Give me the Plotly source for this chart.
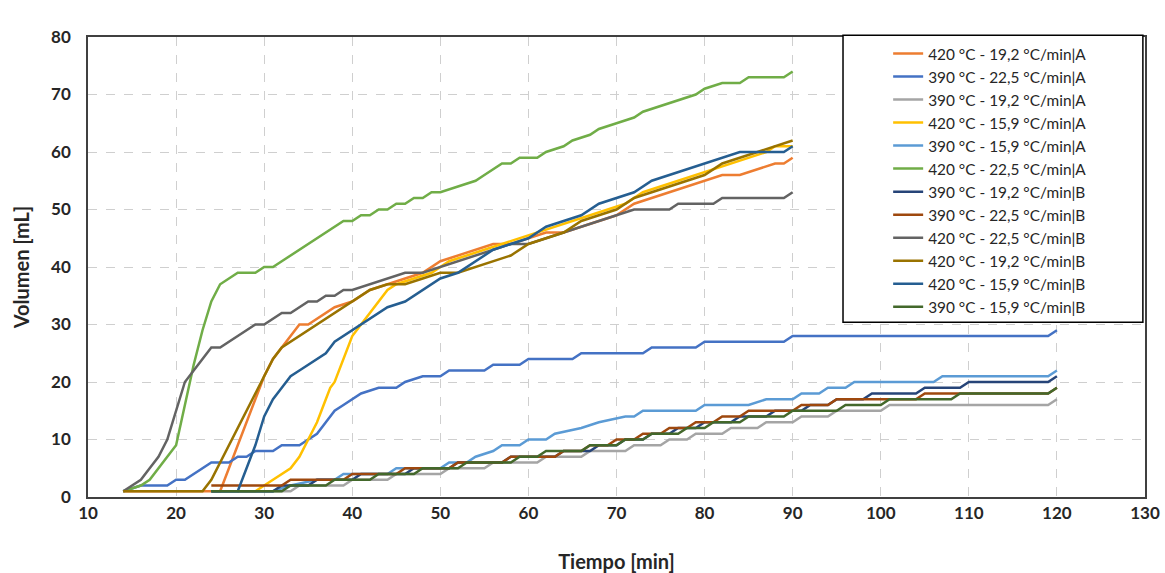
import plotly.graph_objects as go

# ---------------- data ----------------
names = [
    "420 °C - 19,2 °C/min|A", "390 °C - 22,5 °C/min|A", "390 °C - 19,2 °C/min|A",
    "420 °C - 15,9 °C/min|A", "390 °C - 15,9 °C/min|A", "420 °C - 22,5 °C/min|A",
    "390 °C - 19,2 °C/min|B", "390 °C - 22,5 °C/min|B", "420 °C - 22,5 °C/min|B",
    "420 °C - 19,2 °C/min|B", "420 °C - 15,9 °C/min|B", "390 °C - 15,9 °C/min|B",
]
colors = ["#ED7D31", "#4472C4", "#A5A5A5", "#FFC000", "#5B9BD5", "#70AD47",
          "#264478", "#9E480E", "#636363", "#997300", "#255E91", "#43682B"]

t_420_192_A = [14, 25, 26, 27, 28, 29, 30, 31, 32, 33, 34, 35, 36, 38, 40, 42, 44, 46, 48, 50, 52, 54, 56, 58, 60,
               62, 64, 66, 68, 70, 72, 74, 76, 78, 80, 82, 84, 86, 88, 89, 90]
v_420_192_A = [1, 1, 5, 9, 13, 17, 21, 24, 26, 28, 30, 30, 31, 33, 34, 36, 37, 38, 39, 41, 42, 43, 44, 44, 45,
               46, 46, 47, 48, 49, 51, 52, 53, 54, 55, 56, 56, 57, 58, 58, 59]

t_390_225_A = [14, 16, 19, 20, 21, 23, 24, 26, 27, 28, 29, 31, 32, 34, 35, 36, 37, 38, 39, 40, 41, 43, 45, 46, 48,
               50, 51, 55, 56, 59, 60, 65, 66, 73, 74, 79, 80, 89, 90, 119, 120]
v_390_225_A = [1, 2, 2, 3, 3, 5, 6, 6, 7, 7, 8, 8, 9, 9, 10, 11, 13, 15, 16, 17, 18, 19, 19, 20, 21,
               21, 22, 22, 23, 23, 24, 24, 25, 25, 26, 26, 27, 27, 28, 28, 29]

t_390_192_A = [24, 33, 34, 39, 40, 44, 45, 50, 51, 55, 56, 61, 62, 66, 67, 71, 72, 75, 76, 78, 79, 82, 83, 86, 87,
               90, 91, 94, 95, 100, 101, 119, 120]
v_390_192_A = [1, 1, 2, 2, 3, 3, 4, 4, 5, 5, 6, 6, 7, 7, 8, 8, 9, 9, 10, 10, 11, 11, 12, 12, 13,
               13, 14, 14, 15, 15, 16, 16, 17]

t_420_159_A = [27, 29, 30, 32, 33, 34, 35, 36, 37, 37.5, 38, 39, 40, 41, 42, 43, 44, 45, 47, 49, 51, 53, 55, 57, 59,
               61, 63, 65, 67, 69, 71, 73, 75, 77, 79, 81, 83, 85, 87, 88, 90]
v_420_159_A = [1, 1, 2, 4, 5, 7, 10, 13, 17, 19, 20, 24, 28, 30, 32, 34, 36, 37, 38, 39, 41, 42, 43, 44, 45,
               46, 47, 48, 49, 50, 51, 53, 54, 55, 56, 57, 58, 59, 60, 61, 61]

t_390_159_A = [27, 31, 33, 36, 38, 39, 44, 45, 50, 51, 53, 54, 56, 57, 59, 60, 62, 63, 66, 68, 71, 72, 73, 79, 80,
               85, 87, 90, 91, 93, 94, 96, 97, 106, 107, 119, 120]
v_390_159_A = [1, 1, 2, 3, 3, 4, 4, 5, 5, 6, 6, 7, 8, 9, 9, 10, 10, 11, 12, 13, 14, 14, 15, 15, 16,
               16, 17, 17, 18, 18, 19, 19, 20, 20, 21, 21, 22]

t_420_225_A = [14, 16, 17, 18, 19, 20, 21, 22, 23, 24, 25, 26, 27, 28, 29, 30, 31, 32, 33, 34, 35, 36, 37, 38, 39,
               40, 41, 42, 43, 44, 45, 46, 47, 48, 49, 50, 52, 54, 55, 56, 57, 58, 59, 61, 62, 64, 65, 67, 68,
               70, 72, 73, 75, 77, 79, 80, 82, 84, 85, 89, 90]
v_420_225_A = [1, 2, 3, 5, 7, 9, 16, 23, 29, 34, 37, 38, 39, 39, 39, 40, 40, 41, 42, 43, 44, 45, 46, 47, 48,
               48, 49, 49, 50, 50, 51, 51, 52, 52, 53, 53, 54, 55, 56, 57, 58, 58, 59, 59, 60, 61, 62, 63, 64,
               65, 66, 67, 68, 69, 70, 71, 72, 72, 73, 73, 74]

t_390_192_B = [24, 31, 32, 35, 36, 40, 41, 46, 47, 51, 52, 57, 58, 63, 64, 67, 68, 70, 71, 73, 74, 76, 77, 79, 80,
               83, 84, 87, 88, 91, 92, 94, 95, 98, 99, 104, 105, 109, 110, 119, 120]
v_390_192_B = [1, 1, 2, 2, 3, 3, 4, 4, 5, 5, 6, 6, 7, 7, 8, 8, 9, 9, 10, 10, 11, 11, 12, 12, 13,
               13, 14, 14, 15, 15, 16, 16, 17, 17, 18, 18, 19, 19, 20, 20, 21]

t_390_225_B = [24, 32, 33, 39, 40, 45, 46, 51, 52, 57, 58, 63, 64, 66, 67, 69, 70, 72, 73, 75, 76, 78, 79, 81, 82,
               84, 85, 90, 91, 94, 95, 104, 105, 119, 120]
v_390_225_B = [2, 2, 3, 3, 4, 4, 5, 5, 6, 6, 7, 7, 8, 8, 9, 9, 10, 10, 11, 11, 12, 12, 13, 13, 14,
               14, 15, 15, 16, 16, 17, 17, 18, 18, 19]

t_420_225_B = [14, 15, 16, 17, 18, 19, 20, 21, 22, 23, 24, 25, 26, 27, 28, 29, 30, 31, 32, 33, 34, 35, 36, 37, 38,
               39, 40, 42, 44, 46, 48, 50, 52, 54, 56, 58, 60, 62, 64, 66, 68, 70, 72, 76, 77, 81, 82, 89, 90]
v_420_225_B = [1, 2, 3, 5, 7, 10, 15, 20, 22, 24, 26, 26, 27, 28, 29, 30, 30, 31, 32, 32, 33, 34, 34, 35, 35,
               36, 36, 37, 38, 39, 39, 40, 41, 42, 43, 44, 44, 45, 46, 47, 48, 49, 50, 50, 51, 51, 52, 52, 53]

t_420_192_B = [14, 23, 24, 25, 26, 27, 28, 29, 30, 31, 32, 33, 34, 35, 36, 38, 40, 41, 42, 44, 46, 48, 50, 52, 54,
               56, 58, 60, 62, 64, 66, 68, 70, 72, 74, 76, 78, 80, 82, 84, 86, 88, 90]
v_420_192_B = [1, 1, 3, 6, 9, 12, 15, 18, 21, 24, 26, 27, 28, 29, 30, 32, 34, 35, 36, 37, 37, 38, 39, 39, 40,
               41, 42, 44, 45, 46, 48, 49, 50, 52, 53, 54, 55, 56, 58, 59, 60, 61, 62]

t_420_159_B = [24, 27, 28, 29, 30, 31, 32, 33, 34, 35, 36, 37, 38, 39, 40, 42, 44, 46, 48, 50, 52, 54, 56, 58, 60,
               62, 64, 66, 68, 70, 72, 74, 76, 78, 80, 82, 84, 86, 88, 89, 90]
v_420_159_B = [1, 1, 5, 9, 14, 17, 19, 21, 22, 23, 24, 25, 27, 28, 29, 31, 33, 34, 36, 38, 39, 41, 43, 44, 45,
               47, 48, 49, 51, 52, 53, 55, 56, 57, 58, 59, 60, 60, 60, 60, 61]

t_390_159_B = [24, 32, 33, 37, 38, 42, 43, 47, 48, 52, 53, 58, 59, 61, 62, 66, 67, 70, 71, 73, 74, 77, 78, 80, 81,
               84, 85, 89, 90, 95, 96, 100, 101, 108, 109, 119, 120]
v_390_159_B = [1, 1, 2, 2, 3, 3, 4, 4, 5, 5, 6, 6, 7, 7, 8, 8, 9, 9, 10, 10, 11, 11, 12, 12, 13,
               13, 14, 14, 15, 15, 16, 16, 17, 17, 18, 18, 19]

times = [t_420_192_A, t_390_225_A, t_390_192_A, t_420_159_A, t_390_159_A, t_420_225_A,
         t_390_192_B, t_390_225_B, t_420_225_B, t_420_192_B, t_420_159_B, t_390_159_B]
values = [v_420_192_A, v_390_225_A, v_390_192_A, v_420_159_A, v_390_159_A, v_420_225_A,
          v_390_192_B, v_390_225_B, v_420_225_B, v_420_192_B, v_420_159_B, v_390_159_B]

x_ticks = list(range(10, 131, 10))
y_ticks = list(range(0, 81, 10))

# ---------------- figure ----------------
fig = go.Figure()
for n, c, t, v in zip(names, colors, times, values):
    fig.add_trace(go.Scatter(x=t, y=v, name=n, mode="lines",
                             line=dict(color=c, width=2.5)))

FONT = "Lato, 'Open Sans', Arial, sans-serif"
TXT = "#262626"
fig.update_layout(
    width=1165, height=573,
    margin=dict(l=88, r=20, t=37, b=76, autoexpand=False),
    paper_bgcolor="white", plot_bgcolor="white",
    font=dict(family=FONT, color=TXT),
    showlegend=True,
    legend=dict(x=0.757, xanchor="left", y=1.0, yanchor="top",
                bgcolor="rgba(0,0,0,0)", borderwidth=0,
                font=dict(family=FONT, size=15.4, color=TXT),
                tracegroupgap=0),
    shapes=[dict(type="rect", xref="paper", yref="paper",
                 x0=0.7143, x1=0.998, y0=0.380, y1=1.004,
                 line=dict(color="#000000", width=1.5), fillcolor="white",
                 layer="above")],
)
fig.update_xaxes(range=[10, 130], tickvals=x_ticks,
                 ticks="", ticklen=0,
                 tickfont=dict(family=FONT, size=17, color=TXT, weight="bold"),
                 showgrid=True, gridcolor="#CFCFCF", griddash="dash", gridwidth=1,
                 showline=True, linecolor="#404040", linewidth=1.5, mirror=True,
                 zeroline=False,
                 title=dict(text="Tiempo [min]", standoff=38,
                            font=dict(family=FONT, size=20, color=TXT, weight="bold")))
fig.update_yaxes(range=[0, 80], tickvals=y_ticks,
                 ticks="outside", ticklen=12, tickcolor="rgba(0,0,0,0)",
                 tickfont=dict(family=FONT, size=17, color=TXT, weight="bold"),
                 showgrid=True, gridcolor="#CFCFCF", griddash="dash", gridwidth=1,
                 showline=True, linecolor="#404040", linewidth=1.5, mirror=True,
                 zeroline=False,
                 title=dict(text="Volumen [mL]", standoff=16,
                            font=dict(family=FONT, size=20, color=TXT, weight="bold")))

fig.write_html("out.html")
